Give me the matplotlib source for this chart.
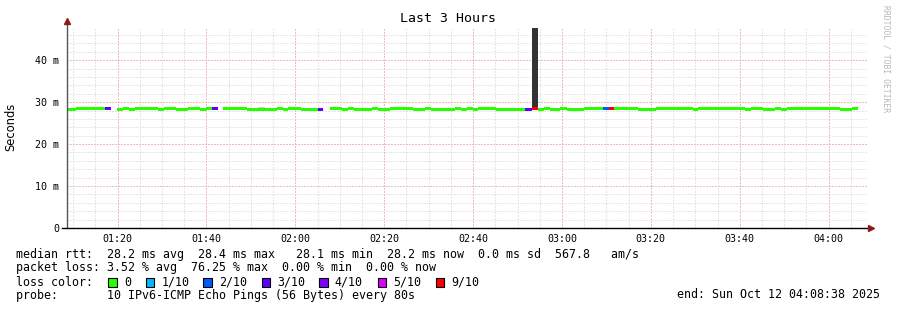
"""Smokeping latency chart: last 3 hours of IPv6 ping median RTT with loss colours."""
from datetime import datetime

import matplotlib
matplotlib.use("Agg")
import matplotlib.dates as mdates
import matplotlib.pyplot as plt
import numpy as np
from matplotlib.patches import Rectangle

DAY = "2025-10-12 "
T_START = "01:08:38"
T_END = "04:08:38"

# median rtt segments: start time, median (ms, nan = no data), pings lost of 10
SEG_START = [
    "01:08:38", "01:10:40", "01:17:11", "01:18:32", "01:19:53", "01:21:14", "01:22:35",
    "01:23:56", "01:29:06", "01:30:27", "01:33:09", "01:35:51", "01:38:33", "01:39:54",
    "01:41:15", "01:42:36", "01:43:44", "01:49:08", "01:55:53", "01:57:14", "01:58:21",
    "02:01:17", "02:05:06", "02:06:14", "02:07:48", "02:10:30", "02:11:51", "02:13:12",
    "02:17:15", "02:18:36", "02:21:18", "02:26:29", "02:29:11", "02:30:32", "02:35:56",
    "02:37:17", "02:38:38", "02:39:59", "02:41:06", "02:45:09", "02:51:41", "02:53:15",
    "02:54:36", "02:55:57", "02:57:18", "02:59:33", "03:01:08", "03:04:57", "03:09:14",
    "03:10:35", "03:11:42", "03:17:06", "03:21:09", "03:29:29", "03:30:36", "03:41:11",
    "03:42:32", "03:45:14", "03:47:56", "03:49:17", "03:50:38", "04:02:34", "04:05:16",
]
SEG_END_LAST = "04:06:37"
NAN = float("nan")
SEG_RTT = [
    28.2, 28.4, 28.4, NAN, 28.2, 28.4, 28.2,
    28.4, 28.2, 28.4, 28.2, 28.4, 28.2, 28.4,
    28.4, NAN, 28.4, 28.2, 28.4, 28.2, 28.4,
    28.2, 28.2, NAN, 28.4, 28.2, 28.4, 28.2,
    28.4, 28.2, 28.4, 28.2, 28.4, 28.2, 28.4,
    28.2, 28.4, 28.2, 28.4, 28.2, 28.2, 28.4,
    28.2, 28.4, 28.2, 28.4, 28.2, 28.4, 28.4,
    28.4, 28.4, 28.2, 28.4, 28.2, 28.4, 28.2,
    28.4, 28.2, 28.4, 28.2, 28.4, 28.2, 28.4,
]
SEG_LOSS = [
    0, 0, 3, 0, 0, 0, 0,
    0, 0, 0, 0, 0, 0, 0,
    3, 0, 0, 0, 0, 0, 0,
    0, 3, 0, 0, 0, 0, 0,
    0, 0, 0, 0, 0, 0, 0,
    0, 0, 0, 0, 0, 3, 9,
    0, 0, 0, 0, 0, 0, 2,
    9, 0, 0, 0, 0, 0, 0,
    0, 0, 0, 0, 0, 0, 0,
]

# rtt spread ("smoke"): start, end, low ms, high ms, shade
SMOKE_START = ["01:51:36", "02:53:15"]
SMOKE_END = ["01:53:11", "02:54:36"]
SMOKE_LOW = [28.5, 28.7]
SMOKE_HIGH = [28.8, 47.6]
SMOKE_COLOR = ["#c8c8c8", "#333333"]

LOSS_LABELS = ["0", "1/10", "2/10", "3/10", "4/10", "5/10", "9/10"]
LOSS_LEVELS = [0, 1, 2, 3, 4, 5, 9]
LOSS_COLORS = ["#26ff00", "#00b8ff", "#0059ff", "#5e00ff", "#7e00ff", "#dd00ff", "#ff0000"]

Y_TICKS = [0, 10, 20, 30, 40]
X_TICKS = ["01:20", "01:40", "02:00", "02:20", "02:40", "03:00", "03:20", "03:40", "04:00"]

STATS_RTT = "median rtt:  28.2 ms avg  28.4 ms max   28.1 ms min  28.2 ms now  0.0 ms sd  567.8   am/s"
STATS_LOSS = "packet loss: 3.52 % avg  76.25 % max  0.00 % min  0.00 % now"
PROBE = "probe:       10 IPv6-ICMP Echo Pings (56 Bytes) every 80s"
END = "end: Sun Oct 12 04:08:38 2025"


def ts(hms):
    return mdates.date2num(datetime.strptime(DAY + hms, "%Y-%m-%d %H:%M:%S"))


W, H = 897, 310
MONO = "DejaVu Sans Mono"

fig = plt.figure(figsize=(W / 100, H / 100), dpi=100)
fig.patch.set_facecolor("white")
ax = fig.add_axes([67 / W, 82 / H, 800 / W, 201 / H])
ax.set_facecolor("white")

x0, x1 = ts(T_START), ts(T_END)
ax.set_xlim(x0, x1)
ax.set_ylim(0, 47.9)

# grid
minor_c, major_c = "#cfcfcf", "#f29a9a"
dot = (0, (1, 2))
for m in np.arange(ts("01:10:00"), x1, 5 / 1440):
    ax.axvline(m, color=minor_c, lw=0.72, ls=dot, zorder=1)
for v in np.arange(2, 48, 2):
    ax.axhline(v, color=minor_c, lw=0.72, ls=dot, zorder=1)
for t in X_TICKS:
    ax.axvline(ts(t + ":00"), color=major_c, lw=0.72, ls=dot, zorder=2)
for v in Y_TICKS[1:]:
    ax.axhline(v, color=major_c, lw=0.72, ls=dot, zorder=2)

# smoke
for s, e, lo, hi, c in zip(SMOKE_START, SMOKE_END, SMOKE_LOW, SMOKE_HIGH, SMOKE_COLOR):
    ax.fill_between([ts(s), ts(e)], lo, hi, color=c, lw=0, zorder=3)

# median line coloured by loss
ends = SEG_START[1:] + [SEG_END_LAST]
colour_of = dict(zip(LOSS_LEVELS, LOSS_COLORS))
half = 0.33
for s, e, v, loss in zip(SEG_START, ends, SEG_RTT, SEG_LOSS):
    if np.isnan(v):
        continue
    ax.fill_between([ts(s), ts(e)], v - half, v + half, color=colour_of[loss], lw=0, zorder=4)

# ticks
ax.set_xticks([ts(t + ":00") for t in X_TICKS])
ax.set_xticklabels(X_TICKS, fontfamily=MONO, fontsize=7.2)
ax.set_yticks(Y_TICKS)
ax.set_yticklabels(["0"] + [f"{v} m" for v in Y_TICKS[1:]], fontfamily=MONO, fontsize=7.2)
ax.tick_params(axis="x", length=0, pad=4)
ax.tick_params(axis="y", length=0, pad=5.5)
for sp in ax.spines.values():
    sp.set_visible(False)

# axes with arrows
ax.plot([0, 0], [0, 1.02], transform=ax.transAxes, color="#555555", lw=1, clip_on=False, zorder=6)
ax.plot([-0.006, 1.002], [0, 0], transform=ax.transAxes, color="black", lw=1, clip_on=False, zorder=6)
ax.plot([0], [1.028], transform=ax.transAxes, marker="^", ms=4, color="#8b1a1a", clip_on=False, zorder=7)
ax.plot([1.0045], [0], transform=ax.transAxes, marker=">", ms=4, color="#8b1a1a", clip_on=False, zorder=7)


def ftext(x, y, s, **kw):
    fig.text(x / W, 1 - y / H, s, va="center", **kw)


ftext(11, 127, "Seconds", ha="center", rotation=90, fontsize=8.3)
ftext(448, 19, "Last 3 Hours", ha="center", fontfamily=MONO, fontsize=9.5)
ftext(886, 59, "RRDTOOL / TOBI OETIKER", ha="center", rotation=270, fontfamily=MONO,
      fontsize=5.8, color="#b8b8b8")

ftext(16, 254.5, STATS_RTT, fontfamily=MONO, fontsize=8.4)
ftext(16, 268, STATS_LOSS, fontfamily=MONO, fontsize=8.4)
ftext(16, 282, "loss color:", fontfamily=MONO, fontsize=8.4)
box_x = [108.3, 145.7, 203.3, 261.7, 319.3, 377.7, 435.7]
for bx, lab, c in zip(box_x, LOSS_LABELS, LOSS_COLORS):
    fig.add_artist(Rectangle((bx / W, 1 - 286.7 / H), 8.3 / W, 8.3 / H,
                             transform=fig.transFigure, facecolor=c, edgecolor="black", lw=0.8))
    ftext(bx + 15.5, 282, lab, fontfamily=MONO, fontsize=8.4)
ftext(16, 295, PROBE, fontfamily=MONO, fontsize=8.4)
ftext(880, 295, END, ha="right", fontfamily=MONO, fontsize=8.4)

fig.savefig("out.png", dpi=100)
